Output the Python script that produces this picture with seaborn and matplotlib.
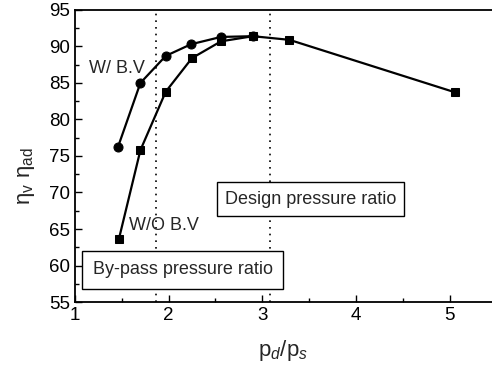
import matplotlib
matplotlib.use("Agg")
import matplotlib.pyplot as plt
import seaborn as sns
import pandas as pd
from matplotlib.ticker import MultipleLocator

sns.set_theme(style="ticks")
plt.rcParams['font.family'] = ['Liberation Sans', 'DejaVu Sans']
plt.rcParams['mathtext.fontset'] = 'custom'
plt.rcParams['mathtext.rm'] = 'Liberation Sans'
plt.rcParams['mathtext.it'] = 'Liberation Sans:italic'

# Data
with_bv_x = [1.46, 1.70, 1.97, 2.24, 2.56, 2.90]
with_bv_y = [76.2, 85.0, 88.7, 90.3, 91.3, 91.4]
without_bv_x = [1.47, 1.70, 1.97, 2.25, 2.56, 2.90, 3.29, 5.06]
without_bv_y = [63.6, 75.8, 83.8, 88.4, 90.7, 91.4, 90.9, 83.7]
bypass_ratio = 1.87
design_ratio = 3.08

df_w = pd.DataFrame({"x": with_bv_x, "y": with_bv_y})
df_wo = pd.DataFrame({"x": without_bv_x, "y": without_bv_y})

fig = plt.figure(figsize=(4.92, 3.67), dpi=100)
ax = fig.add_axes([0.152, 0.177, 0.848, 0.796])

ax.axvline(bypass_ratio, color="black", lw=1.2, ls=(0, (1, 3)), zorder=1)
ax.axvline(design_ratio, color="black", lw=1.2, ls=(0, (1, 3)), zorder=1)

sns.lineplot(data=df_w, x="x", y="y", ax=ax, color="black", lw=1.6,
             marker="o", markersize=6.5, markeredgecolor="black", sort=False, zorder=3)
sns.lineplot(data=df_wo, x="x", y="y", ax=ax, color="black", lw=1.6,
             marker="s", markersize=6, markeredgecolor="black", sort=False, zorder=3)

ax.set_xlim(1, 5.45)
ax.set_ylim(55, 95)
ax.xaxis.set_major_locator(MultipleLocator(1))
ax.xaxis.set_minor_locator(MultipleLocator(0.5))
ax.yaxis.set_major_locator(MultipleLocator(5))
ax.yaxis.set_minor_locator(MultipleLocator(2.5))
ax.tick_params(which="both", direction="in", labelsize=13.5, color="black", labelcolor="black")
ax.tick_params(which="major", length=5, width=1)
ax.tick_params(which="minor", length=3, width=1)
ax.spines["right"].set_visible(False)
for s in ["left", "bottom", "top"]:
    ax.spines[s].set_color("black")
    ax.spines[s].set_linewidth(1.3)

ax.set_xlabel(r"p$_d$/p$_s$", fontsize=16, labelpad=10)
ax.set_ylabel(r"$\mathrm{\eta_v\ \eta_{ad}}$", fontsize=16)
ax.yaxis.set_label_coords(-0.09, 0.43)

ax.text(1.15, 87.0, "W/ B.V", fontsize=13, ha="left", va="center")
ax.text(1.58, 65.5, "W/O B.V", fontsize=13, ha="left", va="center")

box_d = dict(boxstyle="square,pad=0.45", facecolor="white", edgecolor="black", lw=1.0)
box_b = dict(boxstyle="square,pad=0.6", facecolor="white", edgecolor="black", lw=1.0)
ax.text(2.60, 69.1, "Design pressure ratio", fontsize=13, ha="left", va="center", bbox=box_d, zorder=4)
ax.text(1.19, 59.4, "By-pass pressure ratio", fontsize=13, ha="left", va="center", bbox=box_b, zorder=4)

fig.savefig("out.png", dpi=100)
